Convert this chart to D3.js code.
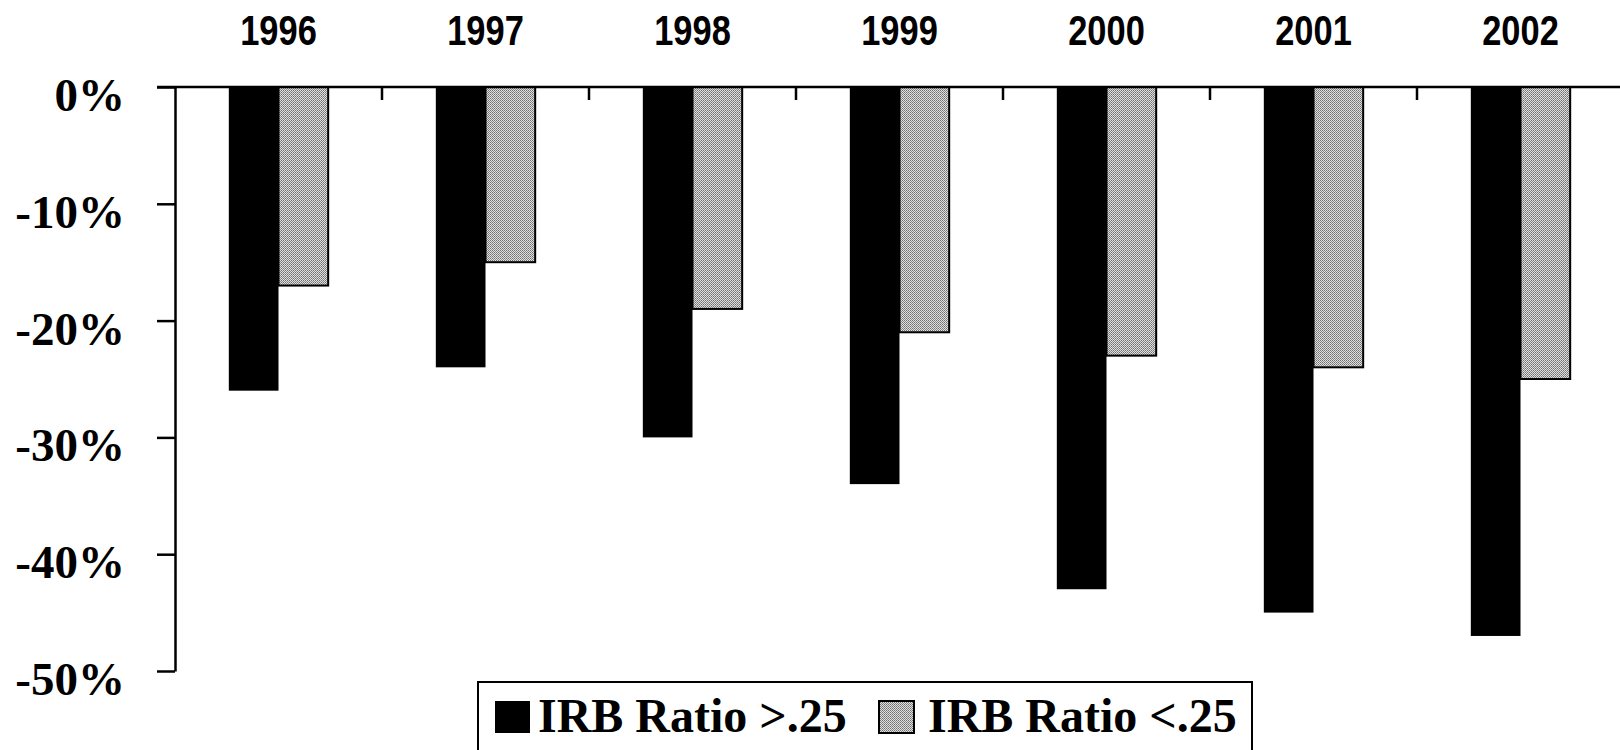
<!DOCTYPE html>
<html>
<head>
<meta charset="utf-8">
<script src="https://cdn.jsdelivr.net/npm/d3@7"></script>
<style>
  body { margin: 0; background: #fff; }
  svg { display: block; }
</style>
</head>
<body>
<script>
// data
const years = ["1996", "1997", "1998", "1999", "2000", "2001", "2002"];
const seriesNames = ["IRB Ratio >.25", "IRB Ratio <.25"];
const highRatio = [-26, -24, -30, -34, -43, -45, -47];
const lowRatio = [-17, -15, -19, -21, -23, -24, -25];
const yTicks = [0, -10, -20, -30, -40, -50];

let svg = null;
let x0, x1, y = null;

const W = 1620, H = 750;
const plot = {left: 175, right: 1624, top: 87, bottom: 671};

appendSvg("body");
setupScales();
appendPattern();
appendBars();
appendAxes();
appendLegend();

function appendSvg(domElement) {
  svg = d3.select(domElement).append("svg")
    .attr("width", W)
    .attr("height", H);
}

function setupScales() {
  x0 = d3.scaleBand().domain(years).range([plot.left, plot.right]);
  const bw = x0.bandwidth();
  x1 = d3.scaleBand().domain(seriesNames).range([bw * 0.26, bw * 0.74]);
  y = d3.scaleLinear().domain([-50, 0]).range([plot.bottom, plot.top]);
}

// dithered grey like the printed original
function appendPattern() {
  const p = svg.append("defs").append("pattern")
    .attr("id", "dots")
    .attr("width", 2).attr("height", 2)
    .attr("patternUnits", "userSpaceOnUse");
  p.append("rect").attr("width", 2).attr("height", 2).attr("fill", "#e0e0e0");
  p.append("rect").attr("width", 1).attr("height", 1).attr("fill", "#707070");
  p.append("rect").attr("x", 1).attr("y", 1).attr("width", 1).attr("height", 1).attr("fill", "#8a8a8a");
}

function appendBars() {
  const rows = years.map((yr, i) => ({year: yr, values: [highRatio[i], lowRatio[i]]}));
  const groups = svg.selectAll("g.year")
    .data(rows)
    .enter().append("g")
    .attr("class", "year")
    .attr("transform", d => `translate(${x0(d.year)},0)`);

  groups.selectAll("rect")
    .data(d => d.values.map((v, j) => ({name: seriesNames[j], value: v})))
    .enter().append("rect")
    .attr("x", d => x1(d.name))
    .attr("y", y(0))
    .attr("width", x1.bandwidth())
    .attr("height", d => y(d.value) - y(0))
    .attr("fill", (d, j) => j === 0 ? "#000" : "url(#dots)")
    .attr("stroke", (d, j) => j === 0 ? "none" : "#000")
    .attr("stroke-width", 2);
}

function appendAxes() {
  // left axis with ticks pointing out
  const yAxis = svg.append("g")
    .attr("transform", `translate(${plot.left},0)`)
    .call(d3.axisLeft(y).tickValues(yTicks).tickSize(18).tickSizeOuter(0).tickFormat(d => d + "%"));
  yAxis.select(".domain").attr("stroke", "#000").attr("stroke-width", 2.5);
  yAxis.selectAll(".tick line").attr("stroke", "#000").attr("stroke-width", 2.5);
  yAxis.selectAll(".tick text")
    .attr("x", -50)
    .attr("dy", "0.5em")
    .attr("fill", "#000")
    .style("font-family", "'Liberation Serif', 'Times New Roman', serif")
    .style("font-weight", "bold")
    .style("font-size", "47px");

  // zero line across the top, extends left to the tick
  svg.append("line")
    .attr("x1", plot.left - 18).attr("x2", W)
    .attr("y1", y(0)).attr("y2", y(0))
    .attr("stroke", "#000").attr("stroke-width", 2.5);

  // category separator ticks hanging from the zero line
  svg.append("g").selectAll("line")
    .data(years.slice(1))
    .enter().append("line")
    .attr("x1", d => x0(d)).attr("x2", d => x0(d))
    .attr("y1", y(0)).attr("y2", y(0) + 13)
    .attr("stroke", "#000").attr("stroke-width", 2.5);

  // year labels across the top, squeezed to look like a narrow face
  svg.append("g").selectAll("text")
    .data(years)
    .enter().append("text")
    .attr("transform", d => `translate(${x0(d) + x0.bandwidth() / 2},45) scale(0.82,1)`)
    .attr("text-anchor", "middle")
    .style("font-family", "'Liberation Sans', Arial, sans-serif")
    .style("font-weight", "bold")
    .style("font-size", "42px")
    .text(d => d);
}

function appendLegend() {
  const lg = svg.append("g");
  lg.append("rect")
    .attr("x", 478).attr("y", 682)
    .attr("width", 774).attr("height", 100)
    .attr("fill", "#fff").attr("stroke", "#000").attr("stroke-width", 2);

  const items = [
    {name: seriesNames[0], sx: 495, tx: 538, fill: "#000", stroke: "none"},
    {name: seriesNames[1], sx: 879, tx: 928, fill: "url(#dots)", stroke: "#000"}
  ];
  items.forEach(it => {
    lg.append("rect")
      .attr("x", it.sx).attr("y", 701)
      .attr("width", 35).attr("height", 32)
      .attr("fill", it.fill).attr("stroke", it.stroke).attr("stroke-width", 2);
    lg.append("text")
      .attr("x", it.tx).attr("y", 732)
      .style("font-family", "'Liberation Serif', 'Times New Roman', serif")
      .style("font-weight", "bold")
      .style("font-size", "48px")
      .text(it.name);
  });
}
</script>
</body>
</html>
